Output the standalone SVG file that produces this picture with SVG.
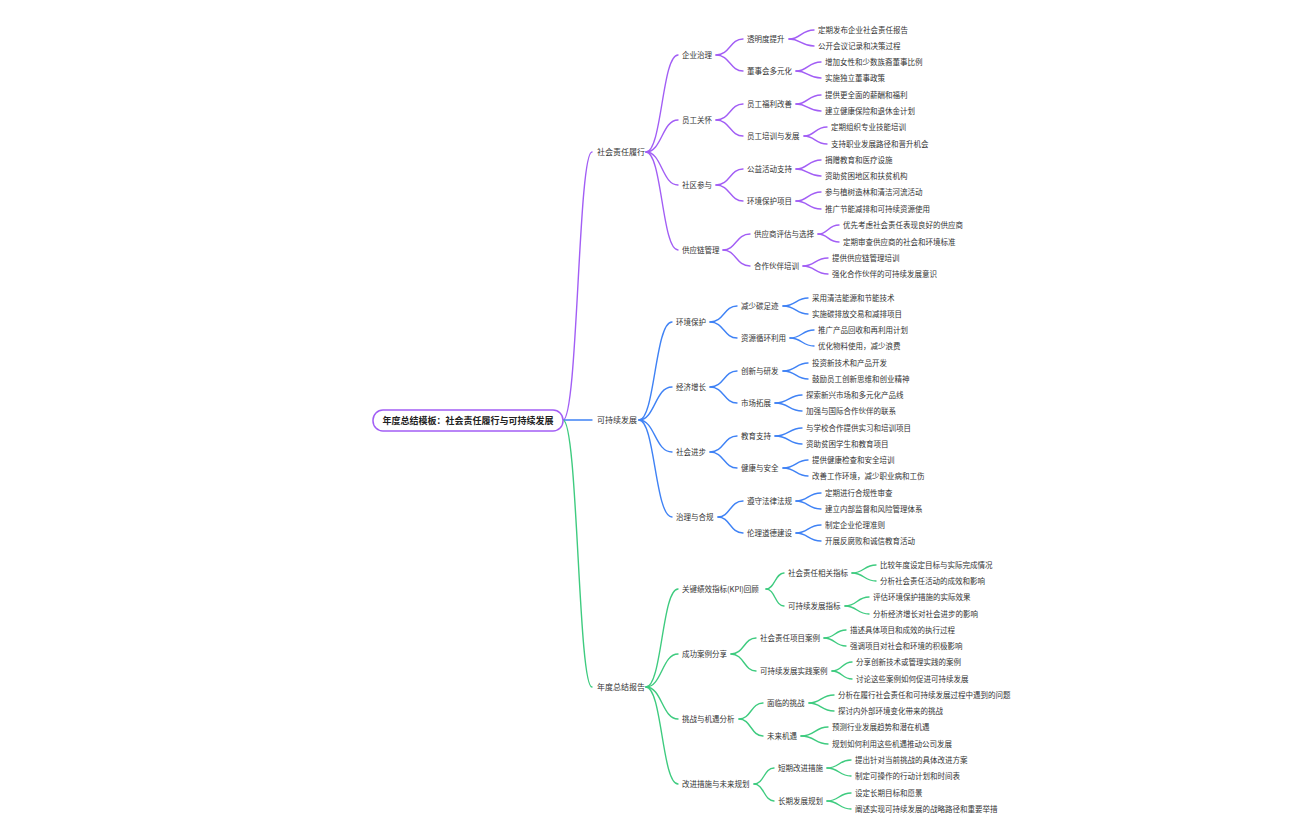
<svg xmlns="http://www.w3.org/2000/svg" width="1296" height="840" viewBox="0 0 1296 840">
<style>
text{font-family:"Noto Sans CJK SC","Liberation Sans",sans-serif;font-size:7.5px;fill:#333}
.root{font-size:9px;font-weight:bold;fill:#222}
.l1{font-size:8px}
path{fill:none;stroke-width:1.4;stroke-linecap:round}
.p path{stroke:#a25ef5}.b path{stroke:#3f82f5}.g path{stroke:#3ecb7f}
</style>
<rect width="1296" height="840" fill="#fff"/>
<g id="connectors">
<g class="p">
<path d="M563 420 C578 420 578 152 592 152"/>
<path d="M646 152 C662 152 662 55 678 55"/><path d="M646 152 C662 152 662 120 678 120"/><path d="M646 152 C662 152 662 185 678 185"/><path d="M646 152 C662 152 662 250 678 250"/>
<path d="M716 55 C730 55 730 39 743 39"/><path d="M716 55 C730 55 730 71 743 71"/>
<path d="M716 120 C730 120 730 104 743 104"/><path d="M716 120 C730 120 730 136 743 136"/>
<path d="M716 185 C730 185 730 169 743 169"/><path d="M716 185 C730 185 730 201 743 201"/>
<path d="M723 250 C736 250 736 234 750 234"/><path d="M723 250 C736 250 736 266 750 266"/>
<path d="M789 39 C801 39 801 30 814 30"/><path d="M789 39 C801 39 801 46 814 46"/>
<path d="M796 71 C808 71 808 62 821 62"/><path d="M796 71 C808 71 808 78 821 78"/>
<path d="M796 104 C808 104 808 95 821 95"/><path d="M796 104 C808 104 808 111 821 111"/>
<path d="M804 136 C815 136 815 127 827 127"/><path d="M804 136 C815 136 815 144 827 144"/>
<path d="M796 169 C808 169 808 160 821 160"/><path d="M796 169 C808 169 808 176 821 176"/>
<path d="M796 201 C808 201 808 192 821 192"/><path d="M796 201 C808 201 808 209 821 209"/>
<path d="M818 234 C828 234 828 225 839 225"/><path d="M818 234 C828 234 828 242 839 242"/>
<path d="M803 266 C815 266 815 258 828 258"/><path d="M803 266 C815 266 815 274 828 274"/>
</g>
<g class="b">
<path d="M563 420 C578 420 578 420 592 420"/>
<path d="M639 420 C655 420 655 322 672 322"/><path d="M639 420 C655 420 655 387 672 387"/><path d="M639 420 C655 420 655 452 672 452"/><path d="M639 420 C655 420 655 517 672 517"/>
<path d="M710 322 C724 322 724 306 737 306"/><path d="M710 322 C724 322 724 338 737 338"/>
<path d="M710 387 C724 387 724 371 737 371"/><path d="M710 387 C724 387 724 403 737 403"/>
<path d="M710 452 C724 452 724 436 737 436"/><path d="M710 452 C724 452 724 468 737 468"/>
<path d="M718 517 C730 517 730 501 743 501"/><path d="M718 517 C730 517 730 533 743 533"/>
<path d="M783 306 C796 306 796 298 808 298"/><path d="M783 306 C796 306 796 314 808 314"/>
<path d="M790 338 C802 338 802 330 814 330"/><path d="M790 338 C802 338 802 346 814 346"/>
<path d="M783 371 C796 371 796 363 808 363"/><path d="M783 371 C796 371 796 379 808 379"/>
<path d="M775 403 C789 403 789 395 802 395"/><path d="M775 403 C789 403 789 411 802 411"/>
<path d="M775 436 C789 436 789 428 802 428"/><path d="M775 436 C789 436 789 444 802 444"/>
<path d="M783 468 C796 468 796 460 808 460"/><path d="M783 468 C796 468 796 476 808 476"/>
<path d="M796 501 C808 501 808 493 821 493"/><path d="M796 501 C808 501 808 509 821 509"/>
<path d="M796 533 C808 533 808 525 821 525"/><path d="M796 533 C808 533 808 541 821 541"/>
</g>
<g class="g">
<path d="M563 420 C578 420 578 687 592 687"/>
<path d="M646 687 C662 687 662 589 678 589"/><path d="M646 687 C662 687 662 654 678 654"/><path d="M646 687 C662 687 662 719 678 719"/><path d="M646 687 C662 687 662 784 678 784"/>
<path d="M766 589 C775 589 775 573 784 573"/><path d="M766 589 C775 589 775 606 784 606"/>
<path d="M731 654 C744 654 744 638 756 638"/><path d="M731 654 C744 654 744 671 756 671"/>
<path d="M739 719 C751 719 751 703 763 703"/><path d="M739 719 C751 719 751 736 763 736"/>
<path d="M754 784 C764 784 764 768 774 768"/><path d="M754 784 C764 784 764 801 774 801"/>
<path d="M852 573 C864 573 864 565 876 565"/><path d="M852 573 C864 573 864 581 876 581"/>
<path d="M845 606 C857 606 857 597 869 597"/><path d="M845 606 C857 606 857 614 869 614"/>
<path d="M824 638 C835 638 835 630 846 630"/><path d="M824 638 C835 638 835 646 846 646"/>
<path d="M832 671 C842 671 842 662 852 662"/><path d="M832 671 C842 671 842 679 852 679"/>
<path d="M809 703 C821 703 821 695 834 695"/><path d="M809 703 C821 703 821 711 834 711"/>
<path d="M801 736 C815 736 815 727 828 727"/><path d="M801 736 C815 736 815 744 828 744"/>
<path d="M827 768 C839 768 839 760 851 760"/><path d="M827 768 C839 768 839 776 851 776"/>
<path d="M827 801 C839 801 839 793 851 793"/><path d="M827 801 C839 801 839 809 851 809"/>
</g>
</g>
<g id="root"><rect x="373" y="410" width="190" height="21" rx="10" fill="#fff" stroke="#a25ef5" stroke-width="1.5"/><text class="root" x="468" y="423.5" text-anchor="middle">年度总结模板：社会责任履行与可持续发展</text></g>
<g id="n-a"><text class="l1" x="597" y="155">社会责任履行</text>
<text x="682" y="57.6">企业治理</text><text x="682" y="122.6">员工关怀</text><text x="682" y="187.6">社区参与</text><text x="682" y="252.6">供应链管理</text>
<text x="747" y="41.6">透明度提升</text><text x="747" y="73.6">董事会多元化</text><text x="747" y="106.6">员工福利改善</text><text x="747" y="138.6">员工培训与发展</text><text x="747" y="171.6">公益活动支持</text><text x="747" y="203.6">环境保护项目</text><text x="754" y="236.6">供应商评估与选择</text><text x="754" y="268.6">合作伙伴培训</text>
<text x="818" y="32.6">定期发布企业社会责任报告</text><text x="818" y="48.6">公开会议记录和决策过程</text>
<text x="825" y="64.6">增加女性和少数族裔董事比例</text><text x="825" y="80.6">实施独立董事政策</text>
<text x="825" y="97.6">提供更全面的薪酬和福利</text><text x="825" y="113.6">建立健康保险和退休金计划</text>
<text x="831" y="129.6">定期组织专业技能培训</text><text x="831" y="146.6">支持职业发展路径和晋升机会</text>
<text x="825" y="162.6">捐赠教育和医疗设施</text><text x="825" y="178.6">资助贫困地区和扶贫机构</text>
<text x="825" y="194.6">参与植树造林和清洁河流活动</text><text x="825" y="211.6">推广节能减排和可持续资源使用</text>
<text x="843" y="227.6">优先考虑社会责任表现良好的供应商</text><text x="843" y="244.6">定期审查供应商的社会和环境标准</text>
<text x="832" y="260.6">提供供应链管理培训</text><text x="832" y="276.6">强化合作伙伴的可持续发展意识</text></g>
<g id="n-b"><text class="l1" x="597" y="423">可持续发展</text>
<text x="676" y="324.6">环境保护</text><text x="676" y="389.6">经济增长</text><text x="676" y="454.6">社会进步</text><text x="676" y="519.6">治理与合规</text>
<text x="741" y="308.6">减少碳足迹</text><text x="741" y="340.6">资源循环利用</text><text x="741" y="373.6">创新与研发</text><text x="741" y="405.6">市场拓展</text><text x="741" y="438.6">教育支持</text><text x="741" y="470.6">健康与安全</text><text x="747" y="503.6">遵守法律法规</text><text x="747" y="535.6">伦理道德建设</text>
<text x="812" y="300.6">采用清洁能源和节能技术</text><text x="812" y="316.6">实施碳排放交易和减排项目</text>
<text x="818" y="332.6">推广产品回收和再利用计划</text><text x="818" y="348.6">优化物料使用，减少浪费</text>
<text x="812" y="365.6">投资新技术和产品开发</text><text x="812" y="381.6">鼓励员工创新思维和创业精神</text>
<text x="806" y="397.6">探索新兴市场和多元化产品线</text><text x="806" y="413.6">加强与国际合作伙伴的联系</text>
<text x="806" y="430.6">与学校合作提供实习和培训项目</text><text x="806" y="446.6">资助贫困学生和教育项目</text>
<text x="812" y="462.6">提供健康检查和安全培训</text><text x="812" y="478.6">改善工作环境，减少职业病和工伤</text>
<text x="825" y="495.6">定期进行合规性审查</text><text x="825" y="511.6">建立内部监督和风险管理体系</text>
<text x="825" y="527.6">制定企业伦理准则</text><text x="825" y="543.6">开展反腐败和诚信教育活动</text></g>
<g id="n-c"><text class="l1" x="597" y="690">年度总结报告</text>
<text x="682" y="591.6">关键绩效指标(KPI)回顾</text><text x="682" y="656.6">成功案例分享</text><text x="682" y="721.6">挑战与机遇分析</text><text x="682" y="786.6">改进措施与未来规划</text>
<text x="788" y="575.6">社会责任相关指标</text><text x="788" y="608.6">可持续发展指标</text><text x="760" y="640.6">社会责任项目案例</text><text x="760" y="673.6">可持续发展实践案例</text><text x="767" y="705.6">面临的挑战</text><text x="767" y="738.6">未来机遇</text><text x="778" y="770.6">短期改进措施</text><text x="778" y="803.6">长期发展规划</text>
<text x="880" y="567.6">比较年度设定目标与实际完成情况</text><text x="880" y="583.6">分析社会责任活动的成效和影响</text>
<text x="873" y="599.6">评估环境保护措施的实际效果</text><text x="873" y="616.6">分析经济增长对社会进步的影响</text>
<text x="850" y="632.6">描述具体项目和成效的执行过程</text><text x="850" y="648.6">强调项目对社会和环境的积极影响</text>
<text x="856" y="664.6">分享创新技术或管理实践的案例</text><text x="856" y="681.6">讨论这些案例如何促进可持续发展</text>
<text x="838" y="697.6">分析在履行社会责任和可持续发展过程中遇到的问题</text><text x="838" y="713.6">探讨内外部环境变化带来的挑战</text>
<text x="832" y="729.6">预测行业发展趋势和潜在机遇</text><text x="832" y="746.6">规划如何利用这些机遇推动公司发展</text>
<text x="855" y="762.6">提出针对当前挑战的具体改进方案</text><text x="855" y="778.6">制定可操作的行动计划和时间表</text>
<text x="855" y="795.6">设定长期目标和愿景</text><text x="855" y="811.6">阐述实现可持续发展的战略路径和重要举措</text></g>
</svg>
